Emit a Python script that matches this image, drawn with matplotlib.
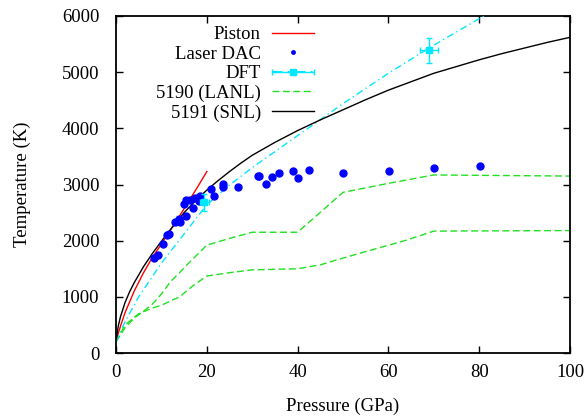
import matplotlib
matplotlib.use("Agg")
import matplotlib.pyplot as plt
from matplotlib.legend_handler import HandlerErrorbar

# ---------------- data ----------------
piston_p = [0, 1, 2, 4, 6, 8, 10, 12, 14, 16, 18, 20]
piston_t = [220, 480, 720, 1100, 1420, 1700, 1940, 2190, 2440, 2700, 2960, 3230]

dac_p = [8.3, 9.25, 10.35, 11.34, 11.6, 12.93, 13.81, 14.16, 15.48, 14.98, 15.35,
         16.23, 16.96, 17.47, 18.28, 18.57, 20.86, 21.52, 23.57, 23.5, 26.94,
         31.2, 31.56, 32.97, 34.43, 35.97, 38.92, 40.09, 42.58, 50.07, 60.13,
         70.04, 80.1]
dac_t = [1686, 1745, 1935, 2095, 2119, 2338, 2380, 2327, 2434, 2653, 2724,
         2724, 2576, 2765, 2711, 2800, 2920, 2795, 3009, 2961, 2961,
         3151, 3151, 3003, 3128, 3210, 3235, 3121, 3258, 3199, 3246,
         3294, 3324]

dft_p = [19.4, 69.0]
dft_t = [2680, 5390]
dft_perr = [1.0, 2.0]
dft_terr = [155, 225]

dftfit_p = [0, 2, 5, 10, 15, 20, 25, 30, 40, 50, 60, 70, 81]
dftfit_t = [200, 560, 1000, 1600, 2120, 2640, 2990, 3300, 3870, 4440, 4980, 5480, 6000]

lanl_hi_p = [0, 2, 4, 6, 8, 10, 12, 14, 16, 18, 20, 25, 30, 40, 50, 60, 70, 100]
lanl_hi_t = [200, 450, 620, 740, 870, 1050, 1270, 1430, 1600, 1760, 1920, 2040,
             2150, 2150, 2860, 3020, 3170, 3150]
lanl_lo_p = [0, 2, 5, 8, 10, 14, 17, 20, 25, 30, 40, 45, 50, 60, 64, 70, 100]
lanl_lo_t = [200, 500, 700, 800, 850, 1000, 1200, 1370, 1430, 1480, 1500, 1570,
             1690, 1920, 2010, 2170, 2180]

snl_p = [0, 0.5, 1, 2, 3, 4, 6, 8, 10, 12.5, 15, 17.5, 20, 22.5, 25, 27.5, 30,
         35, 40, 45, 50, 55, 60, 65, 70, 75, 80, 85, 90, 95, 100]
snl_t = [200, 480, 650, 900, 1090, 1250, 1530, 1770, 1990, 2250, 2500, 2710,
         2900, 3070, 3230, 3380, 3520, 3750, 3960, 4150, 4330, 4510, 4680,
         4830, 4980, 5100, 5220, 5330, 5430, 5530, 5620]

xticks = [0, 20, 40, 60, 80, 100]
yticks = [0, 1000, 2000, 3000, 4000, 5000, 6000]

# ---------------- style ----------------
plt.rcParams['font.family'] = ['Liberation Serif', 'DejaVu Serif']
FS = 13.5
RED = '#ff0000'
BLUE = '#0000ff'
CYAN = '#00e8ff'
GREEN = '#22e022'

fig = plt.figure(figsize=(5.87, 4.17), dpi=100)
ax = fig.add_axes([116 / 587, 1 - 353 / 417, 454 / 587, 337 / 417])

h_piston, = ax.plot(piston_p, piston_t, color=RED, lw=1.0, label='Piston', zorder=3)
dac, = ax.plot(dac_p, dac_t, ls='none', marker='o', ms=5, mec=BLUE, mfc=BLUE,
               label='Laser DAC', zorder=4)
ax.plot(dftfit_p, dftfit_t, color=CYAN, lw=1.0, dashes=(5, 2.5, 1, 2.5), zorder=3)
eb = ax.errorbar(dft_p, dft_t, xerr=dft_perr, yerr=dft_terr, fmt='s', ms=5,
                 color=CYAN, ecolor=CYAN, elinewidth=1.0, capsize=2.5,
                 capthick=1.0, label='DFT', zorder=5)
h_lanl, = ax.plot(lanl_hi_p, lanl_hi_t, color=GREEN, lw=1.0, dashes=(5, 2.5),
                  label='5190 (LANL)', zorder=2)
ax.plot(lanl_lo_p, lanl_lo_t, color=GREEN, lw=1.0, dashes=(5, 2.5), zorder=2)
h_snl, = ax.plot(snl_p, snl_t, color='black', lw=1.0, label='5191 (SNL)', zorder=3)

ax.set_xlim(0, 100)
ax.set_ylim(0, 6000)
ax.set_xticks(xticks)
ax.set_yticks(yticks)
ax.tick_params(direction='in', length=5, width=1.0, top=True, right=True,
               labelsize=FS)
ax.tick_params(axis='y', pad=12)
ax.tick_params(axis='x', pad=8)
for s in ax.spines.values():
    s.set_linewidth(1.3)

ax.set_xlabel('Pressure (GPa)', fontsize=FS, labelpad=12)
ax.set_ylabel('Temperature (K)', fontsize=FS, labelpad=22)

# legend: temporarily adjust styles for legend samples
dac.set_markersize(2.5)
eb.lines[0].set_linestyle((0, (5, 2.5, 1, 2.5)))
eb.lines[0].set_markersize(4)
eb.has_yerr = False
hl = 2.2
leg = ax.legend(handles=[h_piston, dac, eb, h_lanl, h_snl],
                labels=['Piston', 'Laser DAC', 'DFT', '5190 (LANL)', '5191 (SNL)'],
                loc='upper left', bbox_to_anchor=(0.088, 0.97), frameon=False,
                markerfirst=False, fontsize=FS, handlelength=hl,
                handletextpad=0.62, labelspacing=0.13, borderpad=0,
                borderaxespad=0, numpoints=1,
                handler_map={type(eb): HandlerErrorbar(xerr_size=hl / 2)})
dac.set_markersize(5)
eb.lines[0].set_linestyle('none')
eb.lines[0].set_markersize(5)

fig.savefig('out.png', dpi=100)
